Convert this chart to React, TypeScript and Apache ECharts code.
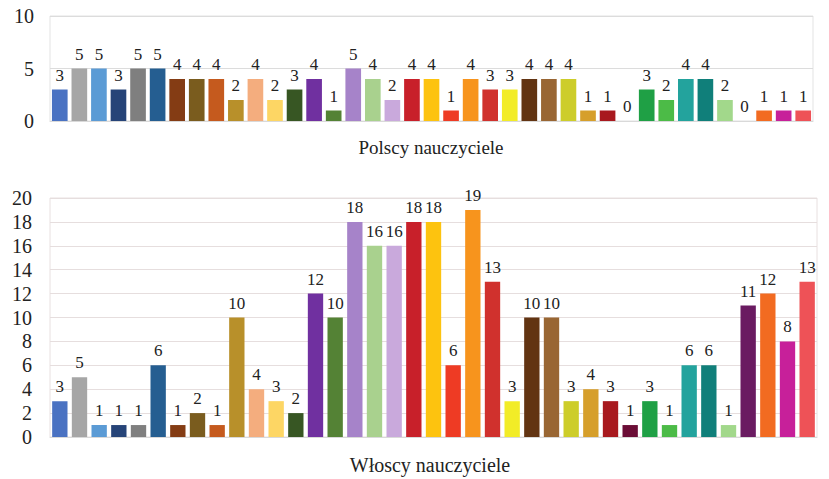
import React, { useEffect, useRef } from "react";
import * as echarts from "echarts";

const categories: string[] = Array.from({ length: 39 }, (_, i) => String(i + 1));

const polishValues: number[] = [3, 5, 5, 3, 5, 5, 4, 4, 4, 2, 4, 2, 3, 4, 1, 5, 4, 2, 4, 4, 1, 4, 3, 3, 4, 4, 4, 1, 1, 0, 3, 2, 4, 4, 2, 0, 1, 1, 1];
const italianValues: number[] = [3, 5, 1, 1, 1, 6, 1, 2, 1, 10, 4, 3, 2, 12, 10, 18, 16, 16, 18, 18, 6, 19, 13, 3, 10, 10, 3, 4, 3, 1, 3, 1, 6, 6, 1, 11, 12, 8, 13];

const barColors: string[] = [
  "#4a72c2", "#a6a6a6", "#5b9bd5", "#264478", "#7f7f7f", "#255e91",
  "#843c14", "#7a5c1e", "#c55a1e", "#b8902a", "#f4ad7e", "#fdd664",
  "#375623", "#7030a0", "#548235", "#a683c9", "#a9d18e", "#c9a9dc",
  "#c8202a", "#fdc30f", "#ee3b24", "#f7941d", "#d0312d", "#f2ec27",
  "#623412", "#996633", "#cdcd2a", "#d69f2b", "#a8191e", "#6b0d36",
  "#1fa045", "#4cbb47", "#23a39d", "#107f7a", "#a2d88b", "#6a1b61",
  "#f26b21", "#c7209a", "#ee5257",
];

const topTitle = "Polscy nauczyciele";
const bottomTitle = "Włoscy nauczyciele";

const FONT = "Liberation Serif";

export default function App() {
  const ref = useRef<HTMLDivElement>(null);
  useEffect(() => {
    if (!ref.current) return;
    const chart = echarts.init(ref.current, undefined, { renderer: "svg" });
    const mkData = (vals: number[]) =>
      vals.map((v, i) => ({ value: v, itemStyle: { color: barColors[i] } }));
    const labelStyle = {
      show: true,
      position: "top" as const,
      distance: 6,
      fontFamily: FONT,
      fontSize: 17,
      color: "#222222",
    };
    chart.setOption({
      animation: false,
      backgroundColor: "#ffffff",
      textStyle: { fontFamily: FONT },
      graphic: [
        {
          type: "text",
          x: 431,
          y: 147,
          style: {
            text: topTitle,
            fontFamily: FONT,
            fontSize: 19,
            fill: "#222222",
            align: "center",
            verticalAlign: "middle",
          },
        },
        {
          type: "text",
          x: 430,
          y: 465,
          style: {
            text: bottomTitle,
            fontFamily: FONT,
            fontSize: 20,
            fill: "#222222",
            align: "center",
            verticalAlign: "middle",
          },
        },
      ],
      grid: [
        { left: 50, right: 16, top: 16, height: 105, show: true, borderColor: "#e3e3e3", borderWidth: 1 },
        { left: 50, right: 12, top: 198, height: 239, show: true, borderColor: "#e8e0e0", borderWidth: 1 },
      ],
      xAxis: [
        {
          type: "category",
          gridIndex: 0,
          data: categories,
          axisLabel: { show: false },
          axisTick: { show: false },
          axisLine: { lineStyle: { color: "#d9d9d9" } },
        },
        {
          type: "category",
          gridIndex: 1,
          data: categories,
          axisLabel: { show: false },
          axisTick: { show: false },
          axisLine: { lineStyle: { color: "#d9d9d9" } },
        },
      ],
      yAxis: [
        {
          type: "value",
          gridIndex: 0,
          min: 0,
          max: 10,
          interval: 5,
          axisLabel: { fontFamily: FONT, fontSize: 20, color: "#222", margin: 16 },
          splitLine: { lineStyle: { color: "#dcdcdc" } },
          axisLine: { show: false },
          axisTick: { show: false },
        },
        {
          type: "value",
          gridIndex: 1,
          min: 0,
          max: 20,
          interval: 2,
          axisLabel: { fontFamily: FONT, fontSize: 20, color: "#222", margin: 18 },
          splitLine: { lineStyle: { color: "#e6dede" } },
          axisLine: { show: false },
          axisTick: { show: false },
        },
      ],
      series: [
        {
          type: "bar",
          xAxisIndex: 0,
          yAxisIndex: 0,
          data: mkData(polishValues),
          barCategoryGap: "20%",
          label: labelStyle,
        },
        {
          type: "bar",
          xAxisIndex: 1,
          yAxisIndex: 1,
          data: mkData(italianValues),
          barCategoryGap: "22%",
          label: labelStyle,
        },
      ],
    });
    return () => chart.dispose();
  }, []);
  return (
    <div
      ref={ref}
      style={{ position: "absolute", left: 0, top: 0, width: 829, height: 479 }}
    />
  );
}
